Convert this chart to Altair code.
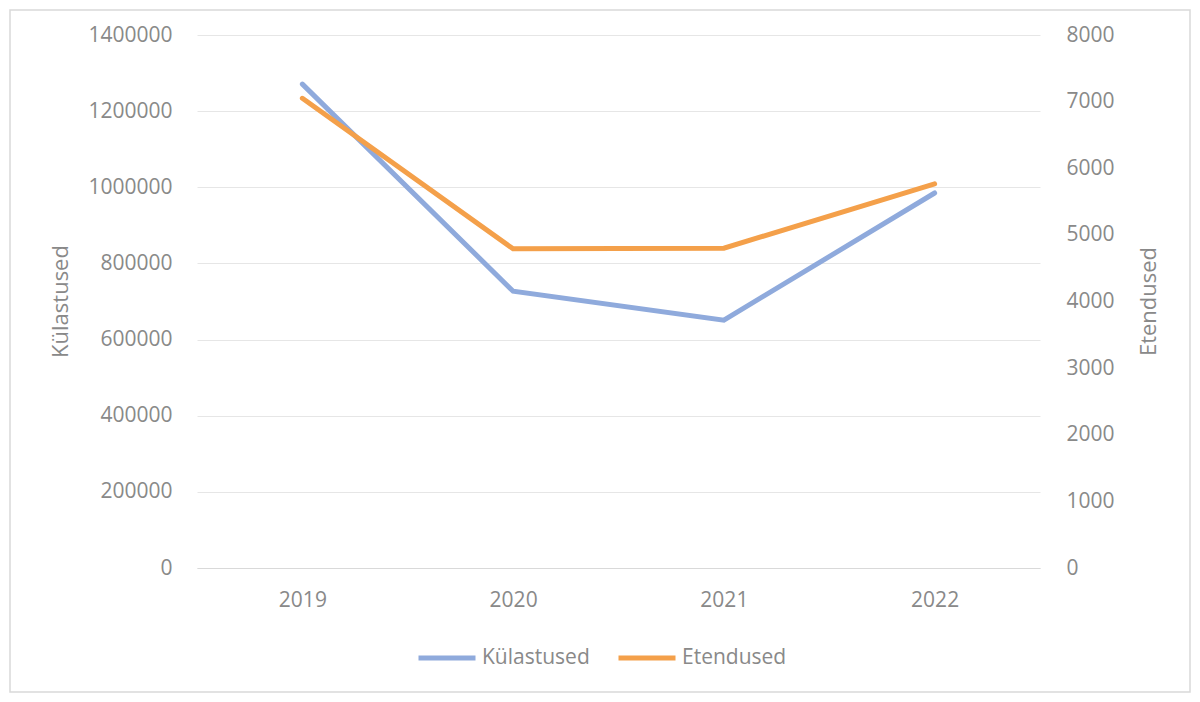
import altair as alt
import pandas as pd

years = ["2019", "2020", "2021", "2022"]
kulastused = [1271000, 727000, 651000, 985000]
etendused = [7050, 4790, 4800, 5765]
series_names = ["Külastused", "Etendused"]
colors = ["#8FAADC", "#F4A04A"]
left_ticks = [0, 200000, 400000, 600000, 800000, 1000000, 1200000, 1400000]
right_ticks = [0, 1000, 2000, 3000, 4000, 5000, 6000, 7000, 8000]

df = pd.DataFrame({
    "year": years * 2,
    "series": [series_names[0]] * len(years) + [series_names[1]] * len(years),
    "value": kulastused + etendused,
})

FONT = "Open Sans"
GRAY = "#898989"
W, H = 843, 533

x_enc = alt.X(
    "year:N", sort=years,
    scale=alt.Scale(type="point", padding=0.5),
    axis=alt.Axis(title=None, labelAngle=0, labelPadding=21, ticks=False,
                  domainColor="#d9d9d9", labelFontSize=21, labelColor=GRAY, labelFont=FONT),
)

color_enc = alt.Color(
    "series:N",
    scale=alt.Scale(domain=series_names, range=colors),
    legend=alt.Legend(
        title=None, orient="none", legendX=219, legendY=592, direction="horizontal",
        symbolType="stroke", symbolSize=3249, symbolStrokeWidth=5,
        labelFontSize=21, labelColor=GRAY, labelFont=FONT, labelOffset=4,
        columnPadding=18, padding=0,
    ),
)

base = alt.Chart(df)

left = base.transform_filter(alt.datum.series == series_names[0]).mark_line(
    strokeWidth=5, strokeCap="round", strokeJoin="miter"
).encode(
    x=x_enc,
    y=alt.Y("value:Q", scale=alt.Scale(domain=[0, 1400000]),
            axis=alt.Axis(values=left_ticks, format="d", title="Külastused",
                          orient="left", domain=False, ticks=False, grid=True,
                          gridColor="#e6e6e6", labelPadding=25,
                          labelFontSize=21, labelColor=GRAY, labelFont=FONT,
                          titleFontSize=22, titleColor=GRAY, titleFont=FONT,
                          titleFontWeight="normal", titleX=-137, titleY=266,
                          titleAngle=-90, titleBaseline="middle", titleAlign="center")),
    color=color_enc,
)

right = base.transform_filter(alt.datum.series == series_names[1]).mark_line(
    strokeWidth=5, strokeCap="round", strokeJoin="miter"
).encode(
    x=x_enc,
    y=alt.Y("value:Q", scale=alt.Scale(domain=[0, 8000]),
            axis=alt.Axis(values=right_ticks, format="d", title="Etendused",
                          orient="right", domain=False, ticks=False, grid=False,
                          labelPadding=26,
                          labelFontSize=21, labelColor=GRAY, labelFont=FONT,
                          titleFontSize=22, titleColor=GRAY, titleFont=FONT,
                          titleFontWeight="normal", titleX=108, titleY=266,
                          titleAngle=-90, titleBaseline="middle", titleAlign="center")),
    color=color_enc,
)

frame = alt.Chart(pd.DataFrame({"a": [0]})).mark_rect(
    fill=None, stroke="#d9d9d9", strokeWidth=1.5, clip=False
).encode(
    x=alt.value(-187), x2=alt.value(993), y=alt.value(-25), y2=alt.value(657)
)

chart = alt.layer(frame, left, right).resolve_scale(y="independent").properties(
    width=W, height=H,
    padding={"left": 189, "top": 27, "right": 152, "bottom": 126},
    autosize=alt.AutoSizeParams(type="none"),
    background="white",
).configure_view(stroke=None)

chart.save("out.html", embed_options={"renderer": "svg", "actions": False})
